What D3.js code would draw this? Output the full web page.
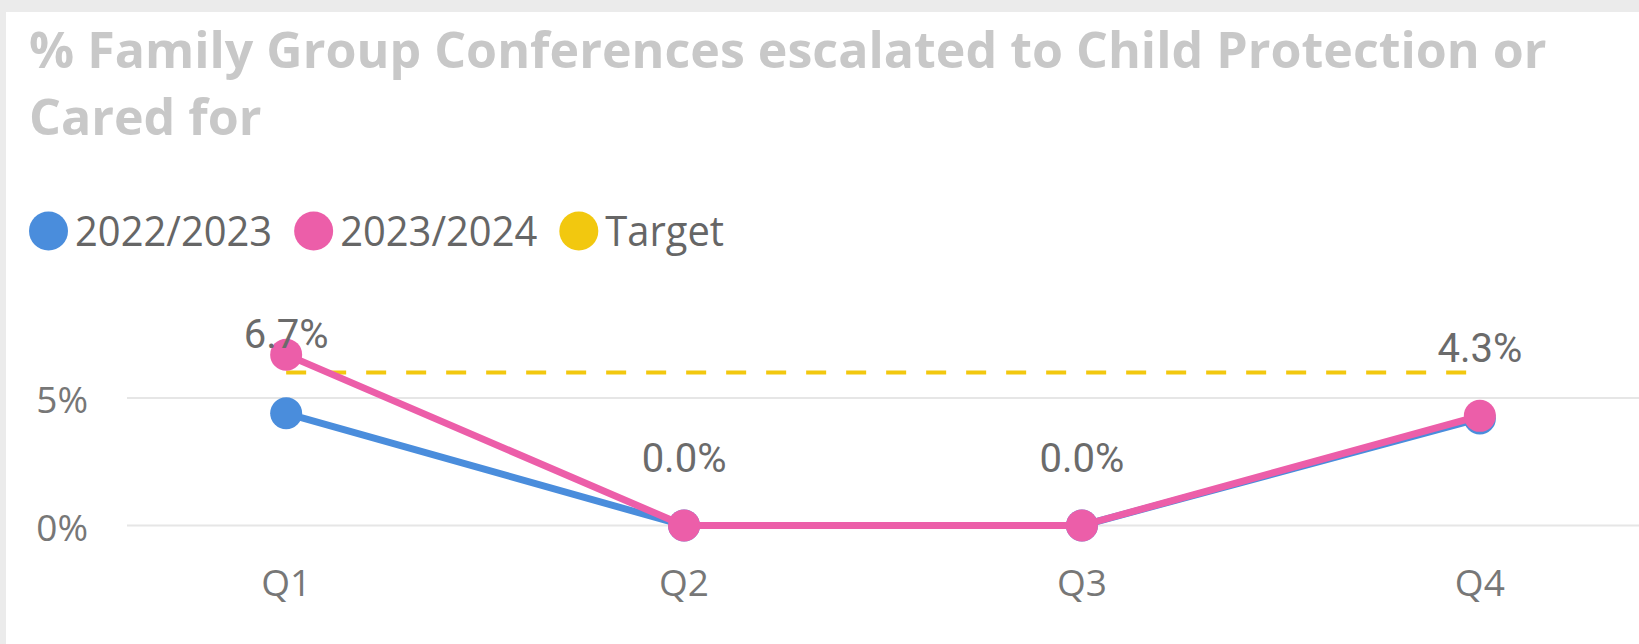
<!DOCTYPE html>
<html>
<head>
<meta charset="utf-8">
<script src="https://cdn.jsdelivr.net/npm/d3@7"></script>
<style>
  html, body { margin: 0; padding: 0; background: #ebebeb; }
  svg { display: block; }
</style>
</head>
<body>
<div id="chart"></div>
<script>
// data
var quarters = ["Q1", "Q2", "Q3", "Q4"]
var series2223 = [4.4, 0.0, 0.0, 4.2]
var series2324 = [6.7, 0.0, 0.0, 4.3]
var targetValue = 6
var yTicks = [0, 5]
var seriesNames = ["2022/2023", "2023/2024", "Target"]
var seriesColors = ["#4a8ddc", "#ec5ea9", "#f2c80f"]

var width = 1639
var height = 644

var svg = d3.select("#chart")
    .append("svg")
    .attr("width", width)
    .attr("height", height)

// white card, grey strip on top and left
svg.append("rect")
    .attr("x", 6)
    .attr("y", 12)
    .attr("width", width - 6)
    .attr("height", height - 12)
    .attr("fill", "#ffffff")

// title (squeezed horizontally to match the narrower original font)
var title = svg.append("g")
title.append("text")
    .attr("x", 0).attr("y", 68)
    .text("% Family Group Conferences escalated to Child Protection or")
title.append("text")
    .attr("x", 0).attr("y", 135)
    .text("Cared for")
title.selectAll("text")
    .attr("font-family", "'Open Sans', sans-serif")
    .attr("font-weight", 700)
    .attr("font-size", 51)
    .attr("fill", "#c8c8c8")
var titleW = title.select("text").node().getComputedTextLength()
title.attr("transform", "translate(29,0) scale(" + (1518 / titleW) + ",1)")

// legend: taller glyphs, squeezed a bit like Segoe UI
var legendSqueeze = 0.95
var legend = svg.append("g")
var lx = 29
seriesNames.forEach(function (name, i) {
    legend.append("circle")
        .attr("cx", lx + 19.5)
        .attr("cy", 231)
        .attr("r", 19.5)
        .attr("fill", seriesColors[i])
    var t = legend.append("text")
        .attr("x", lx + 39 + 7)
        .attr("y", 245.5)
        .attr("font-family", "'Open Sans', sans-serif")
        .attr("font-size", 42)
        .attr("fill", "#666666")
        .text(name)
    var w = t.node().getComputedTextLength() * legendSqueeze
    t.attr("textLength", w).attr("lengthAdjust", "spacingAndGlyphs")
    lx = lx + 39 + 7 + w + 22
})

// scales
var x = d3.scalePoint()
    .domain(quarters)
    .range([127, width])
    .padding(0.4)

var y = d3.scaleLinear()
    .domain([0, 8])
    .range([525.5, 525.5 - 8 * 25.5])

// gridlines
svg.append("g")
    .selectAll("line")
    .data(yTicks)
    .enter()
    .append("line")
    .attr("x1", 127)
    .attr("x2", width)
    .attr("y1", d => y(d))
    .attr("y2", d => y(d))
    .attr("stroke", "#e6e6e6")
    .attr("stroke-width", 2)

// y axis labels
svg.append("g")
    .selectAll("text")
    .data(yTicks)
    .enter()
    .append("text")
    .attr("x", 88)
    .attr("y", d => y(d) + 15)
    .attr("text-anchor", "end")
    .attr("font-family", "'Open Sans', sans-serif")
    .attr("font-size", 37)
    .attr("fill", "#777777")
    .text(d => d + "%")

// x axis labels
svg.append("g")
    .selectAll("text")
    .data(quarters)
    .enter()
    .append("text")
    .attr("x", d => x(d))
    .attr("y", 596)
    .attr("text-anchor", "middle")
    .attr("font-family", "'Open Sans', sans-serif")
    .attr("font-size", 37)
    .attr("fill", "#777777")
    .text(d => d)

// target line
svg.append("line")
    .attr("x1", x(quarters[0]))
    .attr("x2", x(quarters[quarters.length - 1]))
    .attr("y1", y(targetValue))
    .attr("y2", y(targetValue))
    .attr("stroke", seriesColors[2])
    .attr("stroke-width", 4)
    .attr("stroke-dasharray", "20,20")

var line = d3.line()
    .x((d, i) => x(quarters[i]))
    .y(d => y(d))

// series lines and markers, 2022/2023 below 2023/2024
;[series2223, series2324].forEach(function (values, s) {
    var g = svg.append("g")
    g.append("path")
        .datum(values)
        .attr("d", line)
        .attr("fill", "none")
        .attr("stroke", seriesColors[s])
        .attr("stroke-width", 7)
        .attr("stroke-linejoin", "round")
    g.selectAll("circle")
        .data(values)
        .enter()
        .append("circle")
        .attr("cx", (d, i) => x(quarters[i]))
        .attr("cy", d => y(d))
        .attr("r", 16)
        .attr("fill", seriesColors[s])
})

// data labels for 2023/2024
svg.append("g")
    .selectAll("text")
    .data(series2324)
    .enter()
    .append("text")
    .attr("x", (d, i) => x(quarters[i]))
    .attr("y", d => Math.max(y(d) - 54, 348))
    .attr("text-anchor", "middle")
    .attr("font-family", "Roboto, sans-serif")
    .attr("font-size", 40)
    .attr("fill", "#6b6b6b")
    .text(d => d.toFixed(1) + "%")
</script>
</body>
</html>
